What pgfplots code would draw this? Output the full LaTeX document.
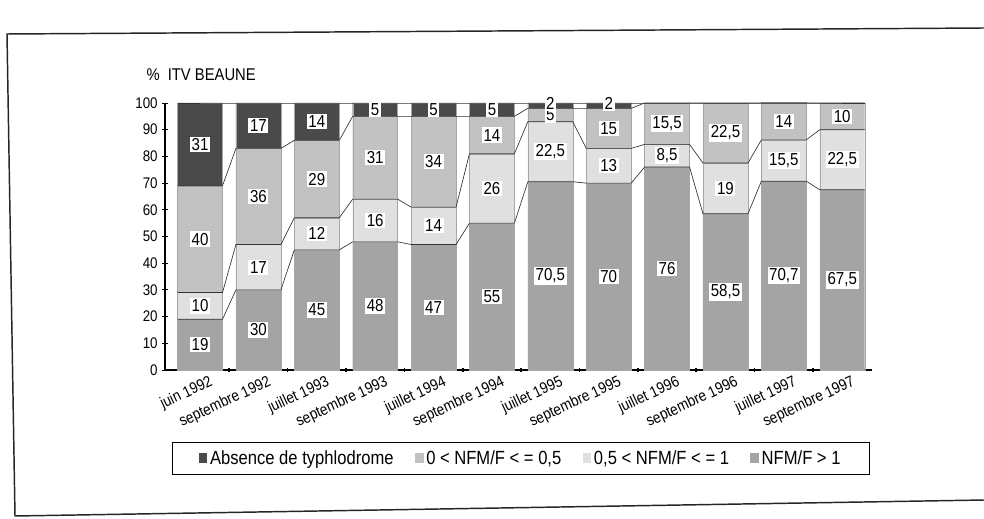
\documentclass[border=0pt]{standalone}
\usepackage{pgfplots}
\pgfplotsset{compat=1.18}
\usepackage{pgfplotstable}
\usepackage{fontspec}
\setmainfont{Liberation Sans}[FakeStretch=0.87]

\definecolor{cA}{HTML}{A4A4A4}
\definecolor{cB}{HTML}{E0E0E0}
\definecolor{cC}{HTML}{C2C2C2}
\definecolor{cD}{HTML}{4A4A4A}

% bottom to top: NFM/F > 1, 0,5 < NFM/F <= 1, 0 < NFM/F <= 0,5, absence
\pgfplotstableread{
x  A    B    C    D
0  19   10   40   31
1  30   17   36   17
2  45   12   29   14
3  48   16   31   5
4  47   14   34   5
5  55   26   14   5
6  70.5 22.5 5    2
7  70   13   15   2
8  76   8.5  15.5 0
9  58.5 19   22.5 0
10 70.7 15.5 14   0
11 67.5 22.5 10   0
}\bars

\pgfplotstableread{
x     y1   y2   y3  y4
-0.385 19   29   69  100
0.385  19   29   69  100
0.615  30   47   83  100
1.385  30   47   83  100
1.615  45   57   86  100
2.385  45   57   86  100
2.615  48   64   95  100
3.385  48   64   95  100
3.615  47   61   95  100
4.385  47   61   95  100
4.615  55   81   95  100
5.385  55   81   95  100
5.615  70.5 93   98  100
6.385  70.5 93   98  100
6.615  70   83   98  100
7.385  70   83   98  100
7.615  76   84.5 100 100
8.385  76   84.5 100 100
8.615  58.5 77.5 100 100
9.385  58.5 77.5 100 100
9.615  70.7 86.2 100 100
10.385 70.7 86.2 100 100
10.615 67.5 90   100 100
11.385 67.5 90   100 100
}\links

\pgfplotstableread{
x  y     lab
0  9.5   19
0  24    10
0  49    40
0  84.5  31
1  15    30
1  38.5  17
1  65    36
1  91.5  17
2  22.5  45
2  51    12
2  71.5  29
2  93    14
3  24    48
3  56    16
3  79.5  31
3  97.5  5
4  23.5  47
4  54    14
4  78    34
4  97.5  5
5  27.5  55
5  68    26
5  88    14
5  97.5  5
6  35.25 70,5
6  81.75 22,5
6  95.5  5
6  99.8  2
7  35    70
7  76.5  13
7  90.5  15
7  99.8  2
8  38    76
8  80.25 8,5
8  92.25 15,5
9  29.25 58,5
9  68    19
9  88.75 22,5
10 35.35 70,7
10 78.45 15,5
10 93.2  14
11 33.75 67,5
11 78.75 22,5
11 95    10
}\labels

\pgfplotsset{
  common/.style={
    at={(123.75pt,111pt)}, anchor=south west,
    scale only axis, width=530.25pt, height=200.25pt,
    xmin=-0.6, xmax=11.51, ymin=0, ymax=100,
    clip=false,
  },
}

\begin{document}
\begin{tikzpicture}
\useasboundingbox (0pt,0pt) rectangle (738pt,388.5pt);
% scanned frame
\draw[line width=1.1pt, black!85] (738pt,367.5pt) -- (5.25pt,363pt) -- (11.25pt,1.5pt) -- (738pt,13.5pt);

\node[anchor=base west, font=\fontsize{12.75}{14}\selectfont] at (106.5pt,327.75pt) {\%\hspace{6pt}ITV BEAUNE};

\begin{axis}[common,
  ybar stacked, bar width=0.77,
  axis x line*=bottom, axis y line*=left,
  axis line style={-, black, line width=0.8pt},
  ytick={0,10,...,100},
  /pgf/number format/assume math mode=true,
  y tick label style={font=\fontsize{11.5}{13}\selectfont},
  ytick style={black, line width=0.7pt},
  tick align=center, major tick length=4pt,
  xtick={0,...,11},
  xtick style={draw=none},
  xticklabels={juin 1992, septembre 1992, juillet 1993, septembre 1993, juillet 1994, septembre 1994, juillet 1995, septembre 1995, juillet 1996, septembre 1996, juillet 1997, septembre 1997},
  x tick label style={font=\fontsize{11.8}{13}\selectfont, xshift=7pt, yshift=0pt, rotate=25, anchor=north east, inner sep=1pt},
  extra x ticks={0.5,1.5,...,10.5},
  extra x tick labels={},
  extra x tick style={xtick style={draw=black, line width=1.2pt}, major tick length=2.5pt},
  legend columns=4,
  reverse legend,
  legend style={at={(0.5035,-0.331)}, anchor=center, draw=black, line width=0.6pt, fill=white,
    font=\fontsize{14.3}{16}\selectfont, inner xsep=20pt, inner ysep=4pt,
    /tikz/every even column/.append style={column sep=14pt}},
  legend image code/.code={\fill[#1, draw=none] (0pt,-3.5pt) rectangle (6.5pt,4pt);},
]
\addplot[fill=cA, draw=black!35, line width=0.3pt] table[x=x, y=A] {\bars};
\addlegendentry{NFM/F > 1}
\addplot[fill=cB, draw=black!35, line width=0.3pt] table[x=x, y=B] {\bars};
\addlegendentry{0,5 < NFM/F < = 1}
\addplot[fill=cC, draw=black!35, line width=0.3pt] table[x=x, y=C] {\bars};
\addlegendentry{0 < NFM/F < = 0,5}
\addplot[fill=cD, draw=black!35, line width=0.3pt] table[x=x, y=D] {\bars};
\addlegendentry{Absence de typhlodrome}
\end{axis}

\begin{axis}[common, hide axis]
\addplot[black!80, line width=0.5pt, mark=none] table[x=x, y=y1] {\links};
\addplot[black!80, line width=0.5pt, mark=none] table[x=x, y=y2] {\links};
\addplot[black!80, line width=0.5pt, mark=none] table[x=x, y=y3] {\links};
\addplot[black!80, line width=0.5pt, mark=none] table[x=x, y=y4] {\links};
\addplot[draw=none, mark=none, point meta=explicit symbolic,
  nodes near coords,
  every node near coord/.append style={anchor=center, fill=white, inner sep=1.2pt,
    font=\fontsize{13}{14}\selectfont, text=black}]
  table[x=x, y=y, meta=lab] {\labels};
\end{axis}
\end{tikzpicture}
\end{document}
